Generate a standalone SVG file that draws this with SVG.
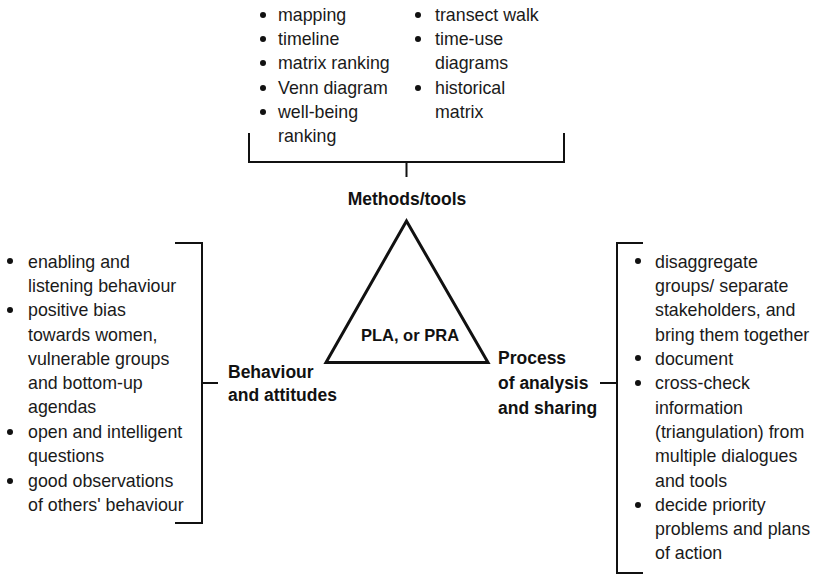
<svg xmlns="http://www.w3.org/2000/svg" width="814" height="575" viewBox="0 0 814 575">
<style>
.t{font-family:"Liberation Sans",Arial,sans-serif;font-size:17.8px;fill:#1a1a1a}
.b{font-family:"Liberation Sans",Arial,sans-serif;font-size:17.5px;font-weight:bold;fill:#111}
.ln{stroke:#111;stroke-width:2;fill:none}
.bu{fill:#111}
</style>
<rect width="814" height="575" fill="#fff"/>
<g id="connectors">
<polyline class="ln" points="249,133 249,162 564,162 564,133"/>
<line class="ln" x1="406.5" y1="162" x2="406.5" y2="177"/>
<polyline class="ln" points="175,243 202,243 202,523 175,523"/>
<line class="ln" x1="202" y1="383" x2="218" y2="383"/>
<polyline class="ln" points="643,243 617,243 617,573 643,573"/>
<line class="ln" x1="600" y1="383" x2="617" y2="383"/>
</g>
<g id="triangle">
<polygon points="406.5,221 326,362.5 488,362.5" fill="none" stroke="#111" stroke-width="3"/>
<text class="b" x="410" y="341" text-anchor="middle" style="font-size:16.5px">PLA, or PRA</text>
</g>
<g id="methods-label">
<text class="b" x="407" y="205" text-anchor="middle">Methods/tools</text>
</g>
<g id="methods-list">
<circle class="bu" cx="263" cy="15" r="3"/>
<circle class="bu" cx="263" cy="39" r="3"/>
<circle class="bu" cx="263" cy="63" r="3"/>
<circle class="bu" cx="263" cy="88" r="3"/>
<circle class="bu" cx="263" cy="112" r="3"/>
<text class="t" x="278" y="21">mapping</text>
<text class="t" x="278" y="45">timeline</text>
<text class="t" x="278" y="69">matrix ranking</text>
<text class="t" x="278" y="94">Venn diagram</text>
<text class="t" x="278" y="118">well-being</text>
<text class="t" x="278" y="142">ranking</text>
<circle class="bu" cx="418" cy="15" r="3"/>
<circle class="bu" cx="418" cy="39" r="3"/>
<circle class="bu" cx="418" cy="88" r="3"/>
<text class="t" x="435" y="21">transect walk</text>
<text class="t" x="435" y="45">time-use</text>
<text class="t" x="435" y="69">diagrams</text>
<text class="t" x="435" y="94">historical</text>
<text class="t" x="435" y="118">matrix</text>
</g>
<g id="behaviour-label">
<text class="b" x="228" y="378">Behaviour</text>
<text class="b" x="228" y="401">and attitudes</text>
</g>
<g id="behaviour-list">
<circle class="bu" cx="10" cy="261" r="3"/>
<circle class="bu" cx="10" cy="310" r="3"/>
<circle class="bu" cx="10" cy="432" r="3"/>
<circle class="bu" cx="10" cy="481" r="3"/>
<text class="t" x="28" y="268">enabling and</text>
<text class="t" x="28" y="292">listening behaviour</text>
<text class="t" x="28" y="316">positive bias</text>
<text class="t" x="28" y="341">towards women,</text>
<text class="t" x="28" y="365">vulnerable groups</text>
<text class="t" x="28" y="389">and bottom-up</text>
<text class="t" x="28" y="413">agendas</text>
<text class="t" x="28" y="438">open and intelligent</text>
<text class="t" x="28" y="462">questions</text>
<text class="t" x="28" y="487">good observations</text>
<text class="t" x="28" y="511">of others' behaviour</text>
</g>
<g id="process-label">
<text class="b" x="498" y="364">Process</text>
<text class="b" x="498" y="389">of analysis</text>
<text class="b" x="498" y="414">and sharing</text>
</g>
<g id="process-list">
<circle class="bu" cx="638" cy="261" r="3"/>
<circle class="bu" cx="638" cy="358" r="3"/>
<circle class="bu" cx="638" cy="383" r="3"/>
<circle class="bu" cx="638" cy="505" r="3"/>
<text class="t" x="655" y="268">disaggregate</text>
<text class="t" x="655" y="292">groups/ separate</text>
<text class="t" x="655" y="316">stakeholders, and</text>
<text class="t" x="655" y="341">bring them together</text>
<text class="t" x="655" y="365">document</text>
<text class="t" x="655" y="389">cross-check</text>
<text class="t" x="655" y="414">information</text>
<text class="t" x="655" y="438">(triangulation) from</text>
<text class="t" x="655" y="462">multiple dialogues</text>
<text class="t" x="655" y="487">and tools</text>
<text class="t" x="655" y="511">decide priority</text>
<text class="t" x="655" y="535">problems and plans</text>
<text class="t" x="655" y="559">of action</text>
</g>
</svg>
